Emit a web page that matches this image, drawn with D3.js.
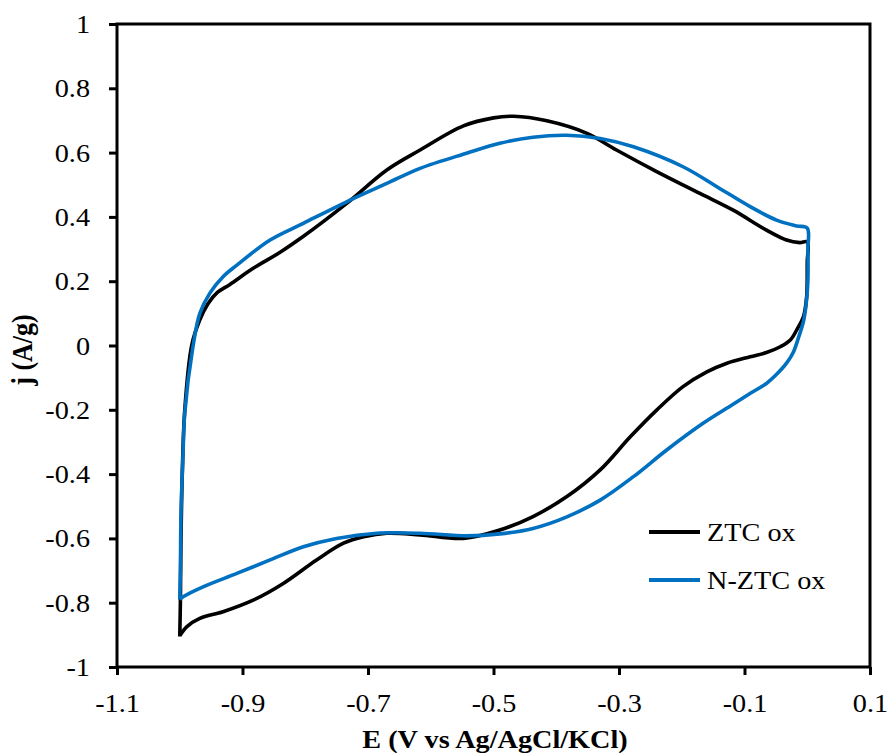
<!DOCTYPE html>
<html><head><meta charset="utf-8">
<script src="https://cdn.jsdelivr.net/npm/d3@7/dist/d3.min.js"></script>
<style>body{margin:0;background:#fff}</style>
</head><body><svg id="c" width="893" height="753"></svg>
<script>
const xTicks = [-1.1,-0.9,-0.7,-0.5,-0.3,-0.1,0.1];
const yTicks = [-1,-0.8,-0.6,-0.4,-0.2,0,0.2,0.4,0.6,0.8,1];
const seriesNames = ["ZTC ox","N-ZTC ox"];
const seriesColors = ["#000000","#0070C0"];
// ZTC ox: anodic sweep then cathodic sweep
const ztcE = [-1.0,-0.999,-0.998,-0.996,-0.992,-0.981,-0.968,-0.955,-0.940,-0.920,-0.883,-0.840,-0.804,-0.734,-0.670,-0.617,-0.548,-0.500,-0.468,-0.415,-0.351,-0.304,-0.240,-0.171,-0.118,-0.065,-0.033,-0.012,0.0,0.0,-0.001,-0.006,-0.015,-0.027,-0.043,-0.065,-0.091,-0.128,-0.160,-0.198,-0.240,-0.282,-0.330,-0.383,-0.437,-0.490,-0.548,-0.617,-0.670,-0.707,-0.739,-0.782,-0.835,-0.883,-0.931,-0.968,-0.989,-1.0];
const ztcJ = [-0.905,-0.80,-0.60,-0.40,-0.20,0.0,0.080,0.130,0.165,0.190,0.240,0.290,0.338,0.442,0.546,0.608,0.683,0.708,0.713,0.699,0.660,0.608,0.541,0.473,0.421,0.359,0.328,0.320,0.322,0.260,0.150,0.090,0.055,0.017,-0.004,-0.022,-0.035,-0.055,-0.082,-0.128,-0.201,-0.284,-0.387,-0.470,-0.532,-0.574,-0.600,-0.589,-0.584,-0.595,-0.615,-0.667,-0.740,-0.792,-0.828,-0.849,-0.875,-0.903];
// N-ZTC ox
const nztcE = [-1.0,-0.999,-0.998,-0.995,-0.992,-0.979,-0.968,-0.952,-0.931,-0.909,-0.856,-0.803,-0.734,-0.670,-0.617,-0.543,-0.490,-0.437,-0.383,-0.330,-0.277,-0.198,-0.144,-0.091,-0.049,-0.017,0.0,0.001,0.001,-0.002,-0.006,-0.013,-0.022,-0.033,-0.050,-0.065,-0.090,-0.120,-0.166,-0.224,-0.277,-0.330,-0.383,-0.437,-0.490,-0.543,-0.617,-0.686,-0.750,-0.803,-0.856,-0.909,-0.962,-0.994,-1.0];
const nztcJ = [-0.790,-0.70,-0.52,-0.35,-0.21,-0.004,0.100,0.163,0.214,0.250,0.328,0.380,0.447,0.504,0.551,0.598,0.629,0.648,0.654,0.644,0.618,0.556,0.494,0.432,0.390,0.372,0.365,0.300,0.200,0.125,0.075,0.030,-0.020,-0.055,-0.092,-0.118,-0.148,-0.185,-0.242,-0.325,-0.408,-0.481,-0.533,-0.569,-0.586,-0.592,-0.584,-0.584,-0.600,-0.626,-0.667,-0.709,-0.750,-0.781,-0.790];

const FONT = '"Liberation Serif"';
const SX = 1.13;
const svg = d3.select("#c");
const L=117,R=870,T=24,B=667;
const x = d3.scaleLinear().domain([-1.1,0.1]).range([L,R]);
const y = d3.scaleLinear().domain([-1,1]).range([B,T]);
const fmt = d=> d===0?"0":String(d);

const xa = svg.append("g").attr("transform",`translate(0,${B})`)
  .call(d3.axisBottom(x).tickValues(xTicks).tickFormat(fmt).tickSize(8).tickSizeOuter(0));
const ya = svg.append("g").attr("transform",`translate(${L},0)`)
  .call(d3.axisLeft(y).tickValues(yTicks).tickFormat(fmt).tickSize(8).tickSizeOuter(0));
[xa,ya].forEach(a=>{a.attr("font-family",null).attr("font-size",null);
  a.select(".domain").remove();a.selectAll("line").attr("stroke","#000").attr("stroke-width",3);
  a.selectAll("text").attr("fill","#000").style("font-family",FONT).style("font-size","25px");});
xa.selectAll("text").attr("dy",null).attr("y",0).attr("transform",`translate(0,45) scale(${SX},1)`);
ya.selectAll("text").attr("x",0).attr("dy","0.34em").attr("transform",`translate(-27,0) scale(${SX},1)`);
svg.append("rect").attr("x",L).attr("y",T).attr("width",R-L).attr("height",B-T)
  .attr("fill","none").attr("stroke","#000").attr("stroke-width",3);

const line = d3.line().x(d=>x(d[0])).y(d=>y(d[1])).curve(d3.curveCatmullRom.alpha(0.5));
const data = [d3.zip(ztcE,ztcJ), d3.zip(nztcE,nztcJ)];
data.forEach((d,i)=>svg.append("path").datum(d).attr("d",line).attr("fill","none")
  .attr("stroke",seriesColors[i]).attr("stroke-width",3.6).attr("stroke-linejoin","round"));

seriesNames.forEach((n,i)=>{
  const yy = 532+i*48;
  svg.append("line").attr("x1",649).attr("x2",700).attr("y1",yy).attr("y2",yy)
    .attr("stroke",seriesColors[i]).attr("stroke-width",4);
  svg.append("text").attr("transform",`translate(707,${yy}) scale(${SX},1)`).attr("dy","0.34em")
    .style("font-family",FONT).style("font-size","25px").text(n);
});
svg.append("text").attr("transform",`translate(495,748) scale(${SX},1)`).attr("text-anchor","middle")
  .style("font-family",FONT).style("font-size","25px").style("font-weight","bold").text("E (V vs Ag/AgCl/KCl)");
svg.append("text").attr("transform",`translate(32,350) rotate(-90) scale(1,${SX})`).attr("text-anchor","middle")
  .style("font-family",FONT).style("font-size","26px").style("font-weight","bold").text("j (A/g)");
</script></body></html>
